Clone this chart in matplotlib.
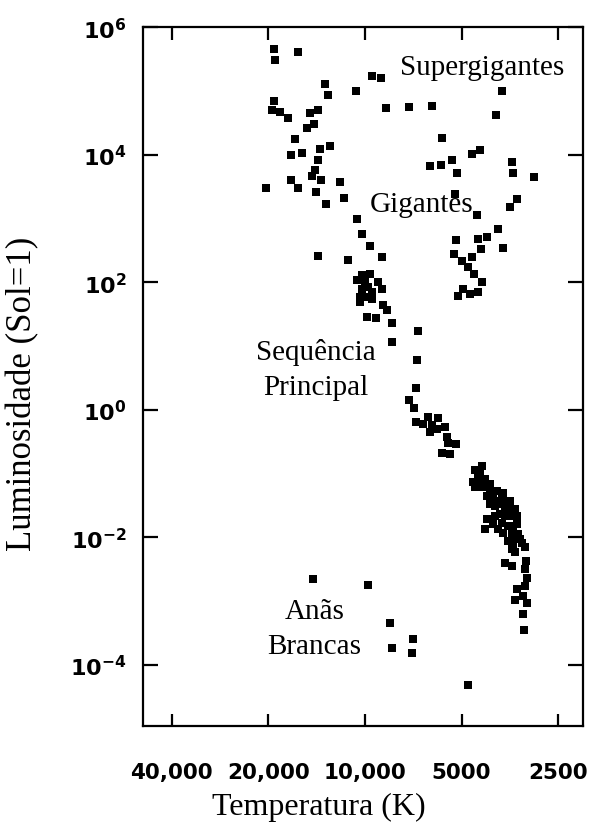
"""
Diagrama H-R (Hertzsprung-Russell) - luminosidade vs temperatura
"""

import matplotlib

matplotlib.use("Agg")
import matplotlib.pyplot as plt
import numpy as np

# temperatura (K) e luminosidade (Sol=1) de cada estrela
temperatura = [
    # supergigantes / gigantes azuis
    19230, 19100, 16200, 9510, 8910, 13300, 13000, 10670, 19230, 19500,
    18400, 17400, 14800, 14000, 15200, 14400, 16500, 17000, 15700, 13800,
    12850, 14000, 14300, 14600, 13700, 11970, 20370, 17000, 16200, 14200,
    11600, 13200, 10600,
    # supergigantes / gigantes vermelhas
    8590, 7290, 6180, 3730, 3900, 5750, 6270, 5790, 5350, 5160,
    4630, 4380, 3480, 3450, 2970, 5240, 3360, 3520, 4470, 3850,
    5200, 4440, 4160, 3710, 4350, 5270, 4980, 4630, 4760, 4570,
    4320, 4940, 5130, 4700, 4440,
    # sequencia principal
    10200, 9640, 14000, 11300, 8850, 10200, 9640, 10600, 10000, 9770,
    10200, 9510, 10350, 9860, 9510, 10350, 9100, 8850, 8790, 8530,
    9860, 9250, 8240, 6820, 8240, 6890, 6930, 7290, 7030, 6930,
    6590, 6350, 5920, 6180, 6270, 5960, 5620, 5550, 5510, 5200,
    5750, 5430,
    4320, 4540, 4380, 4600, 4220, 4540, 4290, 4070, 3870, 3710,
    4160, 3980, 3730, 3520, 3870, 3610, 3400, 3790, 3520, 3360,
    4160, 3980, 4220, 3730, 3580, 3360, 3710, 3480, 3330, 3580,
    3450, 3240, 3480, 3400, 3170, 3660, 3480, 3150, 3170, 3120,
    3360, 3170, 3400, 3210, 3120, 3210, 3190, 4440, 4070, 3660,
    3450, 3280, 3930, 3850, 4380, 3930, 3660, 3790, 3520, 3400,
    4070,
    # anas brancas
    14500, 9770, 8360, 8240, 7080, 7130, 4760,
]

luminosidade = [
    4.5e5, 3.05e5, 4.1e5, 1.71e5, 1.6e5, 1.29e5, 8.7e4, 1.0e5, 7.0e4, 5.05e4,
    4.7e4, 3.8e4, 4.5e4, 5.05e4, 2.64e4, 3.05e4, 1.78e4, 1.0e4, 1.07e4, 1.24e4,
    1.38e4, 8350, 5830, 4700, 4070, 3790, 3050, 4070, 3050, 2640,
    2130, 1660, 964,
    5.4e4, 5.6e4, 5.8e4, 1.0e5, 4.2e4, 1.85e4, 6730, 6980, 8350, 5230,
    1.04e4, 1.2e4, 7780, 5230, 4530, 2460, 2050, 1540, 1150, 673,
    453, 470, 505, 340, 328, 274, 213, 246, 171, 133,
    100, 78, 60, 65, 70,
    562, 365, 255, 221, 246, 129, 133, 107, 100, 83.5,
    77.8, 69.8, 58.3, 58.3, 54.2, 48.7, 100, 77.8, 43.7, 36.5,
    28.4, 27.4, 22.9, 17.1, 11.5, 6.04, 2.21, 1.43, 1.07, 0.649,
    0.604, 0.778, 0.750, 0.583, 0.453, 0.505, 0.542, 0.379, 0.305, 0.294,
    0.213, 0.205,
    0.129, 0.115, 0.0835, 0.075, 0.0835, 0.0626, 0.0626, 0.0562, 0.0523, 0.0487,
    0.0437, 0.0407, 0.0392, 0.0365, 0.0328, 0.0284, 0.0274, 0.0229, 0.0213, 0.0213,
    0.0191, 0.0160, 0.0133, 0.0166, 0.0149, 0.0160, 0.0115, 0.0111, 0.0111, 0.00866,
    0.00778, 0.00806, 0.00649, 0.00583, 0.00698, 0.00393, 0.00352, 0.00422, 0.00316, 0.00229,
    0.00154, 0.00171, 0.00104, 0.00120, 0.00093, 0.00063, 0.00035, 0.0965, 0.0698, 0.0305,
    0.0133, 0.00931, 0.0213, 0.0133, 0.107, 0.0305, 0.0213, 0.0365, 0.0149, 0.0104,
    0.0328,
    0.00221, 0.00178, 0.000453, 0.000184, 0.000255, 0.000154, 4.87e-5,
]

temp_ticks = [40000, 20000, 10000, 5000, 2500]
temp_tick_labels = ["40,000", "20,000", "10,000", "5000", "2500"]
lum_ticks = [1e6, 1e4, 1e2, 1e0, 1e-2, 1e-4]
lum_tick_labels = [r"$\mathbf{10^{%d}}$" % e for e in (6, 4, 2, 0, -2, -4)]

# rotulos das regioes (texto, posicao em fracao dos eixos)
regioes = [
    ("Supergigantes", 0.770, 0.943),
    ("Gigantes", 0.632, 0.747),
    ("Sequência\nPrincipal", 0.393, 0.511),
    ("Anãs\nBrancas", 0.389, 0.140),
]

plt.rcParams["mathtext.fontset"] = "dejavusans"
serif = "Liberation Serif"

fig = plt.figure(figsize=(5.94, 8.28), dpi=100)
ax = fig.add_axes([0.2407, 0.122, 0.741, 0.844])

ax.scatter(temperatura, luminosidade, marker="s", s=28, c="black", linewidths=0)

ax.set_xscale("log")
ax.set_yscale("log")
ax.set_xlim(49200, 2090)
ax.set_ylim(1.1e-5, 1e6)

ax.set_xticks(temp_ticks)
ax.set_xticklabels(temp_tick_labels)
ax.set_yticks(lum_ticks)
ax.set_yticklabels(lum_tick_labels)
ax.minorticks_off()

ax.tick_params(axis="both", which="major", direction="in", top=True, right=True,
               width=1.6, colors="black")
ax.tick_params(axis="x", length=9, pad=26, labelsize=15.5)
ax.tick_params(axis="y", length=11, pad=12, labelsize=16)
for lbl in ax.get_xticklabels():
    lbl.set_fontweight("bold")
for spine in ax.spines.values():
    spine.set_linewidth(1.6)

ax.set_xlabel("Temperatura (K)", fontfamily=serif, fontsize=23)
ax.xaxis.set_label_coords(0.40, -0.095)
ax.set_ylabel("Luminosidade (Sol=1)", fontfamily=serif, fontsize=25)
ax.yaxis.set_label_coords(-0.235, 0.476)

for texto, x, y in regioes:
    ax.text(x, y, texto, transform=ax.transAxes, ha="center", va="center",
            fontfamily=serif, fontsize=21, linespacing=1.45)

fig.savefig("out.png", dpi=100)
